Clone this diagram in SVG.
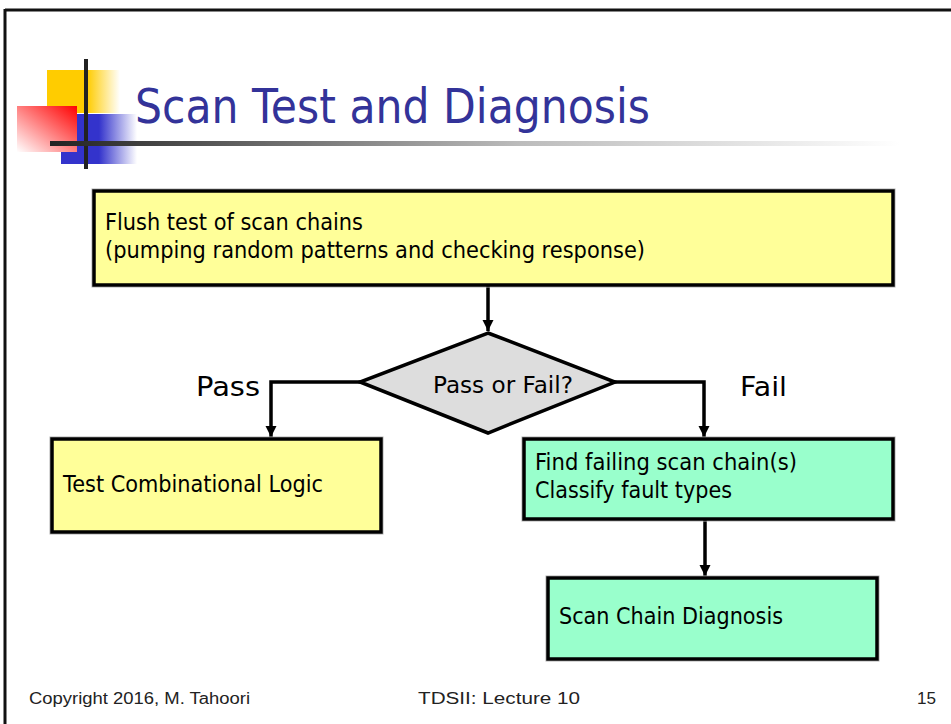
<svg xmlns="http://www.w3.org/2000/svg" width="951" height="724" viewBox="0 0 951 724">
<style>
.box{stroke:#000;stroke-width:3.5}
.shadow{fill:none;stroke:#b0b0b0;stroke-width:1}
.yl{fill:#FFFF99}
.gr{fill:#99FFCC}
.t{font-family:"DejaVu Sans","Liberation Sans",sans-serif;fill:#000}
.bt{font-size:23px}
.lab{font-size:27px}
.foot{font-family:"Liberation Sans",Arial,sans-serif;font-size:16px;fill:#222}
.conn{fill:none;stroke:#000;stroke-width:3.5}
</style>
<defs>
<marker id="arr" viewBox="0 0 10 10" refX="10" refY="5" markerWidth="3.2" markerHeight="3.2" orient="auto" markerUnits="strokeWidth">
<path d="M0,0 L10,5 L0,10 z" fill="#000"/>
</marker>
<linearGradient id="gy" x1="0" y1="0" x2="1" y2="0">
<stop offset="0" stop-color="#FFCC00"/>
<stop offset="0.55" stop-color="#FFCC00"/>
<stop offset="1" stop-color="#FFFFFF"/>
</linearGradient>
<linearGradient id="gb" x1="0" y1="0" x2="1" y2="0">
<stop offset="0" stop-color="#3333CC"/>
<stop offset="0.5" stop-color="#3333CC"/>
<stop offset="1" stop-color="#FFFFFF"/>
</linearGradient>
<linearGradient id="gr" x1="1" y1="0" x2="0" y2="1">
<stop offset="0" stop-color="#FF0000"/>
<stop offset="0.6" stop-color="#FF9999"/>
<stop offset="1" stop-color="#FFFFFF"/>
</linearGradient>
<linearGradient id="gl" x1="0" y1="0" x2="1" y2="0">
<stop offset="0" stop-color="#222222"/>
<stop offset="0.55" stop-color="#BBBBBB"/>
<stop offset="1" stop-color="#FFFFFF"/>
</linearGradient>
</defs>
<rect width="951" height="724" fill="#fff"/>
<g id="frame">
<line x1="5" y1="10" x2="951" y2="10" stroke="#111" stroke-width="3"/>
<line x1="5" y1="9" x2="5" y2="724" stroke="#111" stroke-width="3"/>
</g>
<g id="logo">
<rect x="47" y="70" width="73" height="43" fill="url(#gy)"/>
<rect x="61" y="114" width="76" height="50" fill="url(#gb)"/>
<rect x="17" y="106" width="60" height="46" fill="url(#gr)"/>
<rect x="84" y="59" width="4" height="110" fill="#222"/>
<rect x="50" y="141" width="850" height="5" fill="url(#gl)"/>
</g>
<g id="title">
<text x="135" y="123" font-family="DejaVu Sans,Liberation Sans,sans-serif" font-size="48" fill="#333399" textLength="515" lengthAdjust="spacingAndGlyphs">Scan Test and Diagnosis</text>
</g>
<g id="connectors">
<line class="conn" x1="488" y1="285" x2="488" y2="331" marker-end="url(#arr)"/>
<polyline class="conn" points="360,382 271,382 271,437" marker-end="url(#arr)"/>
<polyline class="conn" points="615,382 704,382 704,437" marker-end="url(#arr)"/>
<line class="conn" x1="705" y1="519" x2="705" y2="576" marker-end="url(#arr)"/>
<text class="t lab" x="196" y="396" textLength="64" lengthAdjust="spacingAndGlyphs">Pass</text>
<text class="t lab" x="740" y="396" textLength="47" lengthAdjust="spacingAndGlyphs">Fail</text>
</g>
<g id="flush">
<rect class="shadow" x="92" y="189" width="803" height="98"/>
<rect class="box yl" x="94" y="191" width="799" height="94"/>
<text class="t bt" x="105" y="230" textLength="258" lengthAdjust="spacingAndGlyphs">Flush test of scan chains</text>
<text class="t bt" x="105" y="258" textLength="540" lengthAdjust="spacingAndGlyphs">(pumping random patterns and checking response)</text>
</g>
<g id="decision">
<polygon points="488,333 615,382 488,433 360,382" fill="#DDDDDD" stroke="#000" stroke-width="3.5" stroke-linejoin="miter"/>
<text class="t bt" x="433" y="393" textLength="140" lengthAdjust="spacingAndGlyphs">Pass or Fail?</text>
</g>
<g id="combo">
<rect class="shadow" x="50" y="437" width="333" height="97"/>
<rect class="box yl" x="52" y="439" width="329" height="93"/>
<text class="t bt" x="63" y="492" textLength="260" lengthAdjust="spacingAndGlyphs">Test Combinational Logic</text>
</g>
<g id="findfail">
<rect class="shadow" x="522" y="437" width="373" height="84"/>
<rect class="box gr" x="524" y="439" width="369" height="80"/>
<text class="t bt" x="535" y="470" textLength="262" lengthAdjust="spacingAndGlyphs">Find failing scan chain(s)</text>
<text class="t bt" x="535" y="498" textLength="197" lengthAdjust="spacingAndGlyphs">Classify fault types</text>
</g>
<g id="diagnosis">
<rect class="shadow" x="546" y="576" width="333" height="85"/>
<rect class="box gr" x="548" y="578" width="329" height="81"/>
<text class="t bt" x="559" y="624" textLength="224" lengthAdjust="spacingAndGlyphs">Scan Chain Diagnosis</text>
</g>
<g id="footer">
<text class="foot" x="29" y="704" textLength="221" lengthAdjust="spacingAndGlyphs">Copyright 2016, M. Tahoori</text>
<text class="foot" x="418" y="704" textLength="162" lengthAdjust="spacingAndGlyphs">TDSII: Lecture 10</text>
<text class="foot" x="917" y="704" textLength="19" lengthAdjust="spacingAndGlyphs">15</text>
</g>
</svg>
